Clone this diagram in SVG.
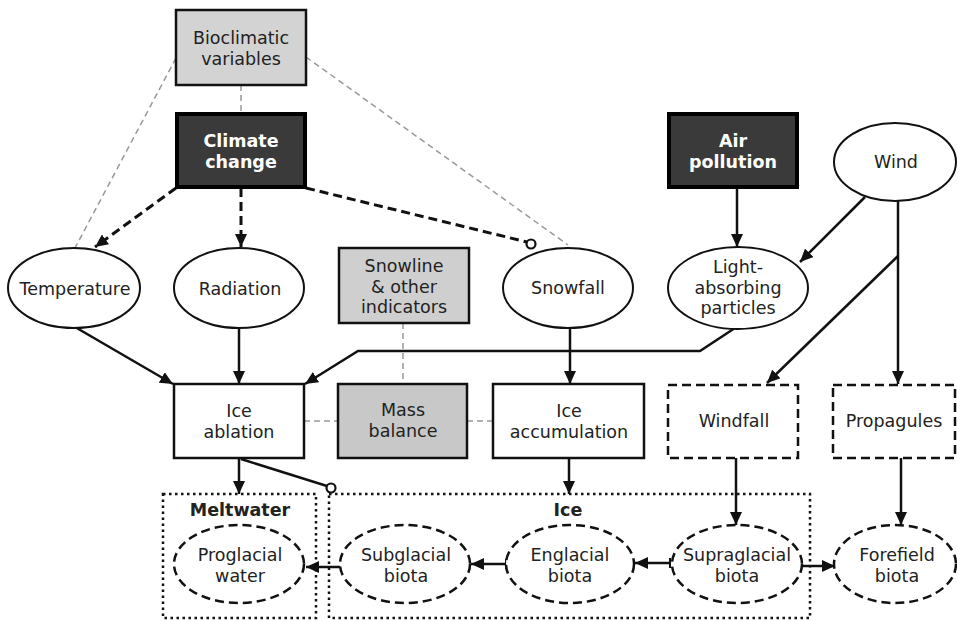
<svg xmlns="http://www.w3.org/2000/svg" width="957" height="621" viewBox="0 0 957 621">
<style>
text{font-family:"DejaVu Sans","Noto Sans",sans-serif;font-size:17.5px;fill:#222;text-anchor:middle}
.b{font-weight:bold}
.w{fill:#fff;font-weight:bold}
.box{fill:#fff;stroke:#111;stroke-width:2.5}
.gray{fill:#d3d3d3;stroke:#111;stroke-width:2.5}
.dark{fill:#3a3a3a;stroke:#000;stroke-width:4}
.ell{fill:#fff;stroke:#111;stroke-width:2}
.dbox{fill:#fff;stroke:#111;stroke-width:2.5;stroke-dasharray:9 5}
.dell{fill:#fff;stroke:#111;stroke-width:2.5;stroke-dasharray:9 5}
.dot{fill:none;stroke:#111;stroke-width:2.5;stroke-dasharray:2.5 3.5}
.c{fill:none;stroke:#111;stroke-width:2.5}
.cd{fill:none;stroke:#111;stroke-width:3;stroke-dasharray:9 5}
.g{fill:none;stroke:#999;stroke-width:1.5;stroke-dasharray:6 4}
</style>
<defs>
<marker id="ar" markerUnits="userSpaceOnUse" markerWidth="14" markerHeight="12" refX="13" refY="6" orient="auto"><path d="M0,0 L13,6 L0,12 z" fill="#111"/></marker>
<marker id="tee" markerUnits="userSpaceOnUse" markerWidth="4" markerHeight="12" refX="2" refY="6" orient="auto"><path d="M2,1 L2,11" stroke="#111" stroke-width="2"/></marker>
</defs>

<g id="connectors">
<path class="g" d="M241,85 L241,113"/>
<path class="g" d="M176,58 L75,248"/>
<path class="g" d="M306,57 L568,245"/>
<path class="g" d="M403,323 L403,384"/>
<path class="g" d="M304,421 L338,421"/>
<path class="g" d="M467,421 L493,421"/>
<path class="cd" d="M176,188 L95,247" marker-end="url(#ar)"/>
<path class="cd" d="M241,188 L241,247" marker-end="url(#ar)"/>
<path class="cd" d="M306,188 L527,242"/>
<circle cx="531" cy="244" r="4.5" fill="#fff" stroke="#111" stroke-width="2.2"/>
<path class="c" d="M737,188 L737,247" marker-end="url(#ar)"/>
<path class="c" d="M865,197 L800,262" marker-end="url(#ar)"/>
<path class="c" d="M898,200 L898,384" marker-end="url(#ar)"/>
<path class="c" d="M898,256 L767,383" marker-end="url(#ar)"/>
<path class="c" d="M75,327 L173,384" marker-end="url(#ar)"/>
<path class="c" d="M239,328 L239,384" marker-end="url(#ar)"/>
<path class="c" d="M738,326 L700,351 L358,351 L305,384" marker-end="url(#ar)"/>
<path class="c" d="M570,328 L570,384" marker-end="url(#ar)"/>
<path class="c" d="M239,458 L239,494" marker-end="url(#ar)"/>
<path class="c" d="M241,459 L327,486"/>
<circle cx="331" cy="488" r="4.5" fill="#fff" stroke="#111" stroke-width="2.2"/>
<path class="c" d="M569,458 L569,494" marker-end="url(#ar)"/>
<path class="c" d="M736,458 L736,525" marker-end="url(#ar)"/>
<path class="c" d="M901,458 L901,525" marker-end="url(#ar)"/>
<path class="c" d="M670,563 L635,563" marker-start="url(#tee)" marker-end="url(#ar)"/>
<path class="c" d="M506,564 L471,564" marker-start="url(#tee)" marker-end="url(#ar)"/>
<path class="c" d="M342,563 L342,567 L306,567" marker-end="url(#ar)"/>
<path class="c" d="M803,566 L835,566" marker-end="url(#ar)"/>
</g>

<g id="bioclimatic"><rect class="gray" x="176" y="10" width="130" height="75"/><text x="241" y="44">Bioclimatic<tspan x="241" dy="20.5">variables</tspan></text></g>
<g id="climate-change"><rect class="dark" x="177" y="114" width="128" height="73"/><text class="w" x="241" y="147">Climate<tspan x="241" dy="20.5">change</tspan></text></g>
<g id="air-pollution"><rect class="dark" x="669" y="114" width="128" height="73"/><text class="w" x="733" y="147">Air<tspan x="733" dy="20.5">pollution</tspan></text></g>
<g id="wind"><ellipse class="ell" cx="895" cy="162" rx="61" ry="39"/><text x="896" y="168">Wind</text></g>
<g id="temperature"><ellipse class="ell" cx="74" cy="288" rx="66" ry="40"/><text x="75" y="295">Temperature</text></g>
<g id="radiation"><ellipse class="ell" cx="239" cy="288" rx="65" ry="40"/><text x="240" y="295">Radiation</text></g>
<g id="snowline"><rect class="gray" x="339" y="248" width="130" height="75" style="fill:#cfcfcf"/><text x="404" y="272">Snowline<tspan x="404" dy="20.5">&amp; other</tspan><tspan x="404" dy="20.5">indicators</tspan></text></g>
<g id="snowfall"><ellipse class="ell" cx="568" cy="288" rx="65" ry="40"/><text x="568" y="294">Snowfall</text></g>
<g id="light-absorbing"><ellipse class="ell" cx="738" cy="288" rx="70" ry="41"/><text x="738" y="273">Light-<tspan x="738" dy="20.5">absorbing</tspan><tspan x="738" dy="20.5">particles</tspan></text></g>
<g id="ice-ablation"><rect class="box" x="174" y="384" width="130" height="74"/><text x="239" y="417">Ice<tspan x="239" dy="20.5">ablation</tspan></text></g>
<g id="mass-balance"><rect class="gray" x="338" y="384" width="129" height="74" style="fill:#c8c8c8"/><text x="403" y="416">Mass<tspan x="403" dy="20.5">balance</tspan></text></g>
<g id="ice-accumulation"><rect class="box" x="493" y="384" width="151" height="74"/><text x="569" y="417">Ice<tspan x="569" dy="20.5">accumulation</tspan></text></g>
<g id="windfall"><rect class="dbox" x="668" y="385" width="130" height="73"/><text x="734" y="427">Windfall</text></g>
<g id="propagules"><rect class="dbox" x="833" y="385" width="122" height="73"/><text x="894" y="427">Propagules</text></g>
<g id="meltwater"><rect class="dot" x="163" y="494" width="153" height="124"/><text class="b" x="240" y="516">Meltwater</text></g>
<g id="ice"><rect class="dot" x="329" y="494" width="481" height="124"/><text class="b" x="568" y="516">Ice</text></g>
<g id="proglacial"><ellipse class="dell" cx="239" cy="564" rx="65" ry="39"/><text x="240" y="561">Proglacial<tspan x="240" dy="20.5">water</tspan></text></g>
<g id="subglacial"><ellipse class="dell" cx="405" cy="564" rx="65" ry="39"/><text x="406" y="561">Subglacial<tspan x="406" dy="20.5">biota</tspan></text></g>
<g id="englacial"><ellipse class="dell" cx="570" cy="564" rx="64" ry="39"/><text x="570" y="561">Englacial<tspan x="570" dy="20.5">biota</tspan></text></g>
<g id="supraglacial"><ellipse class="dell" cx="737" cy="564" rx="65" ry="39"/><text x="737" y="561">Supraglacial<tspan x="737" dy="20.5">biota</tspan></text></g>
<g id="forefield"><ellipse class="dell" cx="895" cy="564" rx="61" ry="39"/><text x="897" y="561">Forefield<tspan x="897" dy="20.5">biota</tspan></text></g>
</svg>
